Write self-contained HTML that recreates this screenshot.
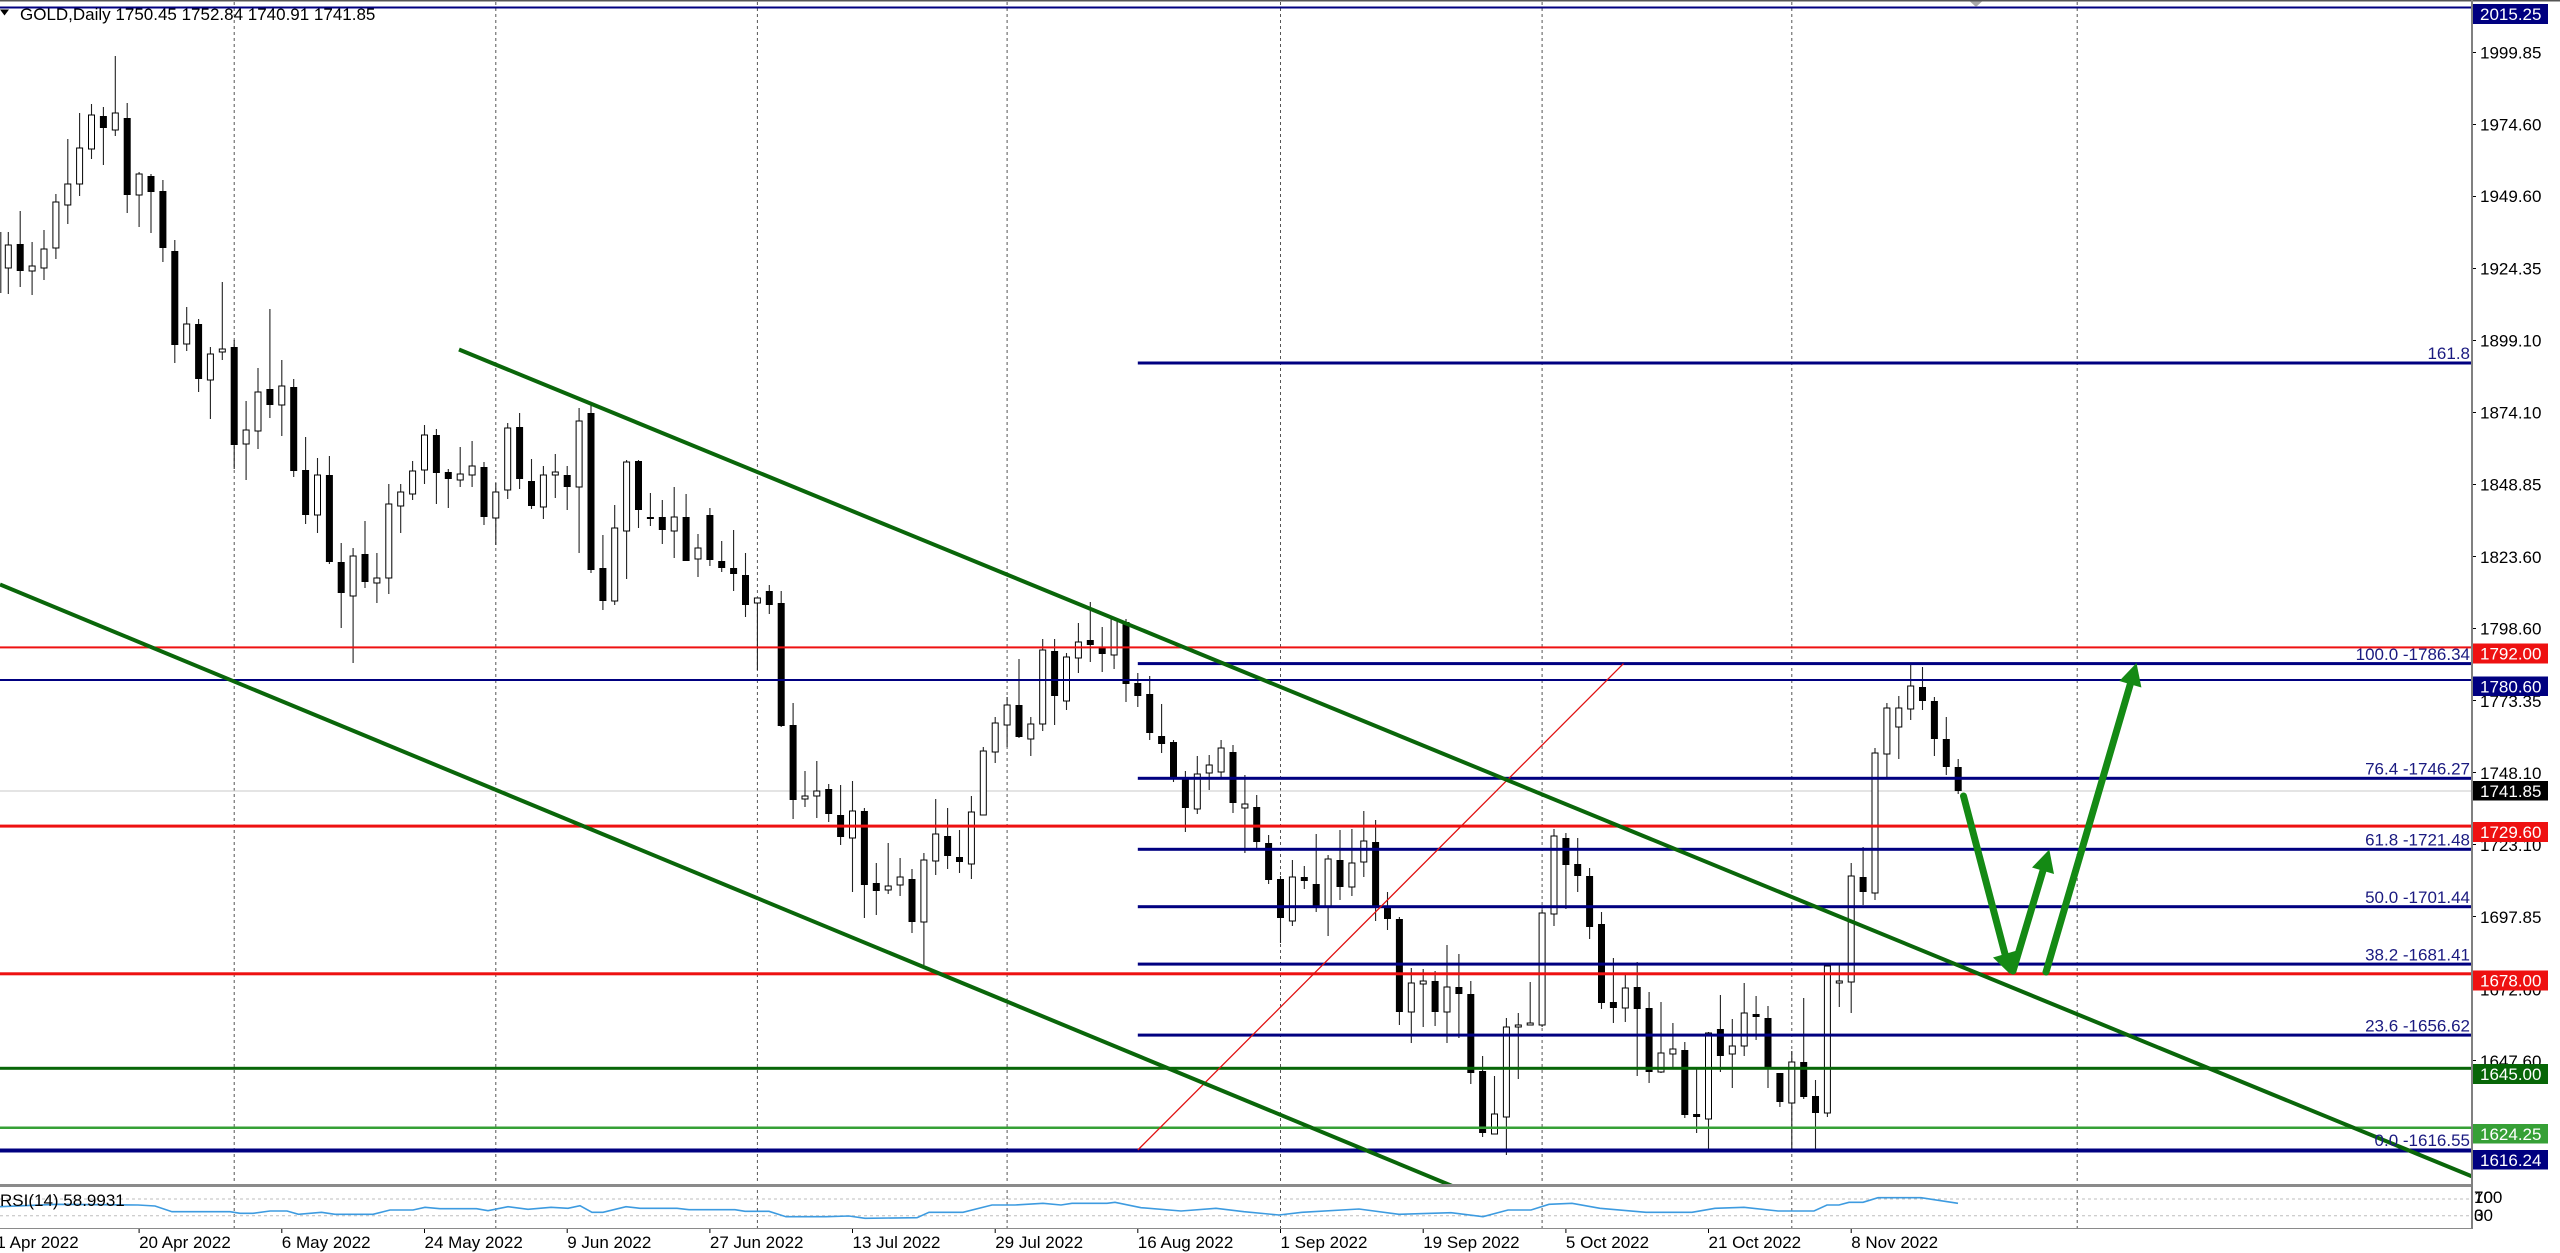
<!DOCTYPE html>
<html><head><meta charset="utf-8"><style>
html,body{margin:0;padding:0;background:#fff;}
svg{display:block;}
text{font-family:"Liberation Sans",Arial,sans-serif;font-size:17px;}
</style></head><body>
<svg width="2560" height="1253" viewBox="0 0 2560 1253" xmlns="http://www.w3.org/2000/svg">
<rect width="2560" height="1253" fill="#fff"/>
<!-- top border -->
<rect x="0" y="0" width="2560" height="1.5" fill="#555"/>
<!-- vertical monthly grid -->
<g stroke="#555" stroke-width="1" stroke-dasharray="3 3">
<path d="M234.2 2V1228M495.8 2V1228M757.4 2V1228M1007.1 2V1228M1280.5 2V1228M1542.1 2V1228M1791.8 2V1228M2077.2 2V1228"/>
</g>
<!-- current price line -->
<rect x="0" y="790.5" width="2472" height="1" fill="#c8c8c8"/>
<!-- wicks -->
<path fill="none" stroke="#222" stroke-width="1.1" d="M0.8 232V293M8.3 232V294M20.2 211V287M32.1 242V295M44 230V280M55.9 194V259M67.8 139V224M79.6 113V196M91.5 104V159M103.4 107V165M115.3 56V136M127.2 103V213M139.1 172V227M151 174V233M162.9 180V262M174.8 240V363M186.7 307V351M198.6 319V392M210.4 347V419M222.3 282V360M234.2 340V469M246.1 401V480M258 368V449M269.9 309V418M281.8 360V436M293.7 379V477M305.6 437V524M317.5 458V533M329.4 456V564M341.2 543V628M353.1 548V663M365 521V588M376.9 553V603M388.8 484V594M400.7 484V533M412.6 461V500M424.5 425V484M436.4 429V504M448.3 469V508M460.2 447V487M472.1 441V487M484 462V525M495.8 483V545M507.7 423V499M519.6 413V489M531.5 459V509M543.4 466V519M555.3 454V498M567.2 466V510M579.1 408V553M591 402V573M602.9 535V610M614.7 505V605M626.6 460V579M638.5 460V528M650.4 493V526M662.3 500V544M674.2 487V558M686.1 494V561M698 534V577M709.9 508V566M721.7 541V572M733.6 530V591M745.5 553V617M757.4 598V670M769.3 585V614M781.2 591V727M793.1 703V819M805 771V807M816.8 761V818M828.7 784V822M840.6 785V845M852.5 781V892M864.4 808V918M876.3 863V915M888.2 843V894M900.1 858V896M912 869V933M923.9 853V965M935.7 799V875M947.6 808V869M959.5 830V873M971.4 796V879M983.3 747V815M995.2 717V763M1007.1 697V747M1019 659V738M1030.8 717V756M1042.7 639V731M1054.6 639V725M1066.5 653V710M1078.4 623V673M1090.3 602V662M1102.2 627V672M1114.1 618V669M1126 619V702M1137.8 673V707M1149.7 676V740M1161.6 704V753M1173.5 740V782M1185.4 771V832M1197.3 756V814M1209.2 755V790M1221.1 740V778M1233 745V813M1244.9 775V853M1256.7 795V848M1268.6 835V884M1280.5 876V943M1292.4 860V926M1304.3 866V889M1316.2 834V912M1328.1 855V936M1340 830V900M1351.9 829V896M1363.8 811V877M1375.6 820V921M1387.5 892V930M1399.4 917V1025M1411.3 968V1043M1423.2 969V1027M1435.1 971V1026M1447 945V1043M1458.9 954V1038M1470.8 981V1084M1482.6 1056V1137M1494.5 1076V1134M1506.4 1018V1155M1518.3 1013V1079M1530.2 982V1025M1542.1 910V1027M1554 829V926M1565.9 833V909M1577.7 838V892M1589.6 868V939M1601.5 912V1009M1613.4 958V1023M1625.3 975V1022M1637.2 962V1076M1649.1 992V1083M1661 1002V1073M1672.9 1023V1067M1684.8 1042V1118M1696.6 1067V1133M1708.5 1032V1149M1720.4 995V1072M1732.3 1019V1088M1744.2 983V1056M1756.1 996V1040M1768 1006V1088M1779.9 1073V1107M1791.8 1051V1149M1803.7 998V1099M1815.5 1080V1149M1827.4 963V1117M1839.3 965V1007M1851.2 863V1013M1863.1 847V905M1875 748V900M1886.9 703V777M1898.8 696V759M1910.7 665V720M1922.5 667V710M1934.4 697V756M1946.3 717V775M1958.2 759V794"/>
<!-- black bodies -->
<path fill="#000" d="M16.7 244h7v27h-7zM99.9 116h7v12h-7zM123.7 118h7v77h-7zM147.5 176h7v16h-7zM159.4 191h7v57h-7zM171.3 251h7v94h-7zM195.1 324h7v55h-7zM230.7 347h7v98h-7zM266.4 389h7v16h-7zM290.2 387h7v84h-7zM302.1 470h7v45h-7zM325.9 475h7v87h-7zM337.7 562h7v31h-7zM361.5 554h7v28h-7zM432.9 435h7v38h-7zM444.8 472h7v7h-7zM480.5 467h7v50h-7zM516.1 427h7v52h-7zM528 481h7v25h-7zM563.7 475h7v12h-7zM587.5 413h7v157h-7zM599.4 568h7v33h-7zM635 461h7v49h-7zM646.9 517h7v2h-7zM658.8 517h7v13h-7zM682.6 517h7v44h-7zM706.4 515h7v45h-7zM718.2 561h7v7h-7zM730.1 568h7v6h-7zM742 575h7v30h-7zM765.8 591h7v14h-7zM777.7 603h7v123h-7zM789.6 725h7v75h-7zM825.2 789h7v25h-7zM837.1 815h7v22h-7zM860.9 811h7v74h-7zM872.8 883h7v8h-7zM908.5 879h7v43h-7zM944.1 836h7v20h-7zM956 857h7v5h-7zM1015.5 705h7v32h-7zM1051.1 651h7v45h-7zM1086.8 640h7v5h-7zM1098.7 648h7v6h-7zM1122.5 622h7v62h-7zM1134.3 683h7v13h-7zM1146.2 694h7v39h-7zM1158.1 736h7v8h-7zM1170 742h7v36h-7zM1181.9 779h7v29h-7zM1229.5 752h7v51h-7zM1253.2 807h7v35h-7zM1265.1 843h7v37h-7zM1277 879h7v39h-7zM1300.8 877h7v4h-7zM1312.7 884h7v22h-7zM1336.5 860h7v27h-7zM1372.1 842h7v64h-7zM1384 906h7v13h-7zM1395.9 919h7v93h-7zM1431.6 981h7v31h-7zM1455.4 987h7v7h-7zM1467.3 994h7v79h-7zM1479.1 1071h7v62h-7zM1562.4 838h7v27h-7zM1574.2 864h7v12h-7zM1586.1 876h7v51h-7zM1598 924h7v79h-7zM1609.9 1002h7v6h-7zM1633.7 987h7v22h-7zM1645.6 1008h7v64h-7zM1681.3 1050h7v65h-7zM1693.1 1114h7v3h-7zM1716.9 1029h7v27h-7zM1752.6 1014h7v3h-7zM1764.5 1018h7v50h-7zM1776.4 1073h7v29h-7zM1800.2 1062h7v35h-7zM1812 1096h7v17h-7zM1859.6 877h7v15h-7zM1919 687h7v14h-7zM1930.9 701h7v38h-7zM1942.8 739h7v28h-7zM1954.7 767h7v24h-7z"/>
<!-- white bodies -->
<path fill="#fff" stroke="#000" stroke-width="1" d="M5.3 245h6v23h-6zM29.1 266h6v5h-6zM41 249h6v19h-6zM52.9 202h6v46h-6zM64.8 184h6v21h-6zM76.6 148h6v36h-6zM88.5 115h6v34h-6zM112.3 113h6v17h-6zM136.1 174h6v21h-6zM183.7 324h6v20h-6zM207.4 354h6v26h-6zM219.3 349h6v3h-6zM243.1 430h6v14h-6zM255 392h6v39h-6zM278.8 386h6v19h-6zM314.5 475h6v40h-6zM350.1 556h6v40h-6zM373.9 578h6v5h-6zM385.8 504h6v74h-6zM397.7 492h6v14h-6zM409.6 471h6v23h-6zM421.5 435h6v35h-6zM457.2 474h6v6h-6zM469.1 466h6v9h-6zM492.8 492h6v26h-6zM504.7 428h6v62h-6zM540.4 475h6v32h-6zM552.3 472h6v3h-6zM576.1 421h6v66h-6zM611.7 528h6v73h-6zM623.6 462h6v69h-6zM671.2 517h6v14h-6zM695 548h6v11h-6zM754.4 598h6v5h-6zM802 796h6v3h-6zM813.8 791h6v5h-6zM849.5 811h6v27h-6zM885.2 886h6v4h-6zM897.1 877h6v8h-6zM920.9 860h6v62h-6zM932.7 834h6v27h-6zM968.4 812h6v52h-6zM980.3 751h6v64h-6zM992.2 723h6v29h-6zM1004.1 705h6v20h-6zM1027.8 724h6v15h-6zM1039.7 650h6v74h-6zM1063.5 657h6v44h-6zM1075.4 642h6v16h-6zM1111.1 619h6v36h-6zM1194.3 774h6v35h-6zM1206.2 765h6v8h-6zM1218.1 748h6v24h-6zM1241.9 804h6v4h-6zM1289.4 877h6v44h-6zM1325.1 859h6v47h-6zM1348.9 863h6v24h-6zM1360.8 841h6v21h-6zM1408.3 983h6v29h-6zM1420.2 981h6v3h-6zM1444 987h6v25h-6zM1491.5 1114h6v20h-6zM1503.4 1027h6v90h-6zM1515.3 1025h6v2h-6zM1527.2 1023h6v2h-6zM1539.1 913h6v112h-6zM1551 836h6v78h-6zM1622.3 988h6v20h-6zM1658 1053h6v19h-6zM1669.9 1049h6v5h-6zM1705.5 1033h6v86h-6zM1729.3 1046h6v8h-6zM1741.2 1013h6v33h-6zM1788.8 1062h6v41h-6zM1824.4 966h6v147h-6zM1836.3 981h6v2h-6zM1848.2 876h6v106h-6zM1872 753h6v140h-6zM1883.9 708h6v46h-6zM1895.8 708h6v19h-6zM1907.7 686h6v23h-6z"/>

<!-- horizontal lines -->
<rect x="0" y="6.5" width="2472" height="2" fill="#000080"/>
<rect x="0" y="646.4" width="2472" height="2" fill="#ee1111"/>
<rect x="0" y="679" width="2472" height="2" fill="#000080"/>
<rect x="0" y="824.6" width="2472" height="3" fill="#ee1111"/>
<rect x="0" y="972.3" width="2472" height="3" fill="#ee1111"/>
<rect x="0" y="1066.8" width="2472" height="3" fill="#076607"/>
<rect x="0" y="1126.5" width="2472" height="2.5" fill="#36a036"/>
<rect x="0" y="1148.5" width="2472" height="4" fill="#000080"/>
<!-- fib levels -->
<g fill="#000080">
<rect x="1137.8" y="361.5" width="1334.2" height="3"/>
<rect x="1137.8" y="662.1" width="1334.2" height="3"/>
<rect x="1137.8" y="776.8" width="1334.2" height="3"/>
<rect x="1137.8" y="847.8" width="1334.2" height="3"/>
<rect x="1137.8" y="905.2" width="1334.2" height="3"/>
<rect x="1137.8" y="962.6" width="1334.2" height="3"/>
<rect x="1137.8" y="1033.6" width="1334.2" height="3"/>
</g>
<!-- fib diagonal -->
<line x1="1137.8" y1="1150" x2="1623.5" y2="663.6" stroke="#e01010" stroke-width="1.3"/>

<!-- channel lines -->
<svg x="0" y="0" width="2472" height="1184" overflow="hidden">
<line x1="459" y1="349.5" x2="2472" y2="1176.4" stroke="#0a660a" stroke-width="4"/>
<line x1="0" y1="584.5" x2="1460" y2="1189.2" stroke="#0a660a" stroke-width="4"/>
</svg>

<!-- arrows -->
<g stroke="#148a14" stroke-width="7" stroke-linecap="round" fill="none">
<line x1="1963.5" y1="796" x2="2005" y2="954"/>
<line x1="2013" y1="971" x2="2043" y2="870.6"/>
<line x1="2046" y1="972" x2="2130.3" y2="684.1"/>
</g>
<g fill="#148a14">
<polygon points="2010,974 2017,950.5 1993,957.5"/>
<polygon points="2049.3,849.5 2054,874 2032,867.5"/>
<polygon points="2136.5,663 2141.4,687.5 2119.3,681"/>
</g>

<!-- fib labels -->
<g fill="#1a1a80" text-anchor="end">
<text x="2470" y="359">161.8</text>
<text x="2470" y="660">100.0 -1786.34</text>
<text x="2470" y="774.5">76.4 -1746.27</text>
<text x="2470" y="845.5">61.8 -1721.48</text>
<text x="2470" y="903">50.0 -1701.44</text>
<text x="2470" y="960.5">38.2 -1681.41</text>
<text x="2470" y="1031.5">23.6 -1656.62</text>
<text x="2470" y="1146">0.0 -1616.55</text>
</g>

<!-- header -->
<polygon points="0,9.5 9,9.5 4.5,15.5" fill="#000"/>
<text x="20" y="20" fill="#000">GOLD,Daily  1750.45 1752.84 1740.91 1741.85</text>
<polygon points="1970,1.5 1982,1.5 1976,7" fill="#aaa"/>

<!-- RSI window -->
<rect x="0" y="1184" width="2473" height="3" fill="#8a8a8a"/>
<rect x="0" y="1228" width="2473" height="1" fill="#8a8a8a"/>
<g stroke="#bdbdbd" stroke-width="1" stroke-dasharray="3 3">
<line x1="0" y1="1199" x2="2472" y2="1199"/>
<line x1="0" y1="1215.7" x2="2472" y2="1215.7"/>
</g>
<polyline fill="none" stroke="#3d9be0" stroke-width="1.6" points="0,1206.7 57,1204.3 138,1205 155,1206 172,1211.7 230,1211.7 240,1213.3 253,1213.3 270,1211 287,1211 298.5,1214.3 321.5,1212.3 335,1214.3 373,1214.3 390,1210 413,1210 425,1207.3 440,1208.7 476.5,1208.7 488,1210.7 508,1206.7 528,1209.3 551,1207.3 568,1208.3 580,1205.7 592,1212.3 603,1212.3 626,1206.7 640,1208.3 677,1208.3 689,1209.7 735,1209.7 745,1211.3 769,1211.3 786,1216.7 826,1216.7 849,1216 865,1218.3 917,1217.7 929,1212.3 963,1212.3 992,1205 1015,1205 1043,1203.3 1061,1205 1072,1203.3 1107,1203.3 1115,1202.3 1141,1207.7 1181,1211 1216,1208.3 1244,1211.7 1279,1215 1302,1212.3 1359,1209 1399,1214.3 1451,1212.7 1483,1216.7 1508,1210 1531,1210 1549,1204.3 1572,1203.3 1600,1208.3 1646,1212.3 1692,1212.3 1715,1208.3 1744,1207.3 1778,1211 1814,1211 1827,1205 1839,1205 1849,1202.3 1863,1202.3 1878,1197.7 1921,1197.7 1958,1203.3"/>
<text x="0" y="1206" fill="#000">RSI(14) 58.9931</text>

<!-- right axis -->
<rect x="2471" y="0" width="2" height="1229" fill="#808080"/>
<g fill="#000">
<path d="M2473 52h3v1h-3zM2473 124h3v1h-3zM2473 196h3v1h-3zM2473 268h3v1h-3zM2473 340h3v1h-3zM2473 412h3v1h-3zM2473 484h3v1h-3zM2473 556h3v1h-3zM2473 628h3v1h-3zM2473 700h3v1h-3zM2473 772h3v1h-3zM2473 844h3v1h-3zM2473 916h3v1h-3zM2473 989h3v1h-3zM2473 1060h3v1h-3z"/>
<text x="2480" y="58.5">1999.85</text>
<text x="2480" y="130.5">1974.60</text>
<text x="2480" y="202">1949.60</text>
<text x="2480" y="274.5">1924.35</text>
<text x="2480" y="346.5">1899.10</text>
<text x="2480" y="418.5">1874.10</text>
<text x="2480" y="490.5">1848.85</text>
<text x="2480" y="563">1823.60</text>
<text x="2480" y="634.5">1798.60</text>
<text x="2480" y="707">1773.35</text>
<text x="2480" y="779">1748.10</text>
<text x="2480" y="851">1723.10</text>
<text x="2480" y="923">1697.85</text>
<text x="2480" y="995.5">1672.60</text>
<text x="2480" y="1067">1647.60</text>
<text x="2474" y="1203">100</text>
<text x="2474" y="1203">70</text>
<text x="2474" y="1221">30</text>
<text x="2474" y="1221">0</text>
</g>
<!-- price boxes -->
<rect x="2473" y="4" width="75" height="20" fill="#000080"/>
<rect x="2473" y="643.5" width="75" height="20" fill="#ee1111"/>
<rect x="2473" y="676.5" width="75" height="19.5" fill="#000080"/>
<rect x="2473" y="781" width="75" height="19.5" fill="#000"/>
<rect x="2473" y="822" width="75" height="20" fill="#ee1111"/>
<rect x="2473" y="970.5" width="75" height="20" fill="#ee1111"/>
<rect x="2473" y="1064" width="75" height="20" fill="#076607"/>
<rect x="2473" y="1124" width="75" height="19.5" fill="#36a036"/>
<rect x="2473" y="1150" width="75" height="19.5" fill="#000080"/>
<g fill="#fff">
<text x="2480" y="20">2015.25</text>
<text x="2480" y="659.5">1792.00</text>
<text x="2480" y="692.5">1780.60</text>
<text x="2480" y="797">1741.85</text>
<text x="2480" y="838">1729.60</text>
<text x="2480" y="986.5">1678.00</text>
<text x="2480" y="1080">1645.00</text>
<text x="2480" y="1140">1624.25</text>
<text x="2480" y="1166">1616.24</text>
</g>

<!-- date axis -->
<path stroke="#000" stroke-width="1" d="M139.1 1229v4M281.8 1229v4M424.5 1229v4M567.2 1229v4M709.9 1229v4M852.5 1229v4M995.2 1229v4M1137.8 1229v4M1280.5 1229v4M1423.2 1229v4M1565.9 1229v4M1708.5 1229v4M1851.2 1229v4"/>
<g fill="#000">
<text x="-3.6" y="1248">1 Apr 2022</text>
<text x="139.1" y="1248">20 Apr 2022</text>
<text x="281.8" y="1248">6 May 2022</text>
<text x="424.5" y="1248">24 May 2022</text>
<text x="567.2" y="1248">9 Jun 2022</text>
<text x="709.9" y="1248">27 Jun 2022</text>
<text x="852.5" y="1248">13 Jul 2022</text>
<text x="995.2" y="1248">29 Jul 2022</text>
<text x="1137.8" y="1248">16 Aug 2022</text>
<text x="1280.5" y="1248">1 Sep 2022</text>
<text x="1423.2" y="1248">19 Sep 2022</text>
<text x="1565.9" y="1248">5 Oct 2022</text>
<text x="1708.5" y="1248">21 Oct 2022</text>
<text x="1851.2" y="1248">8 Nov 2022</text>
</g>
</svg>
</body></html>
